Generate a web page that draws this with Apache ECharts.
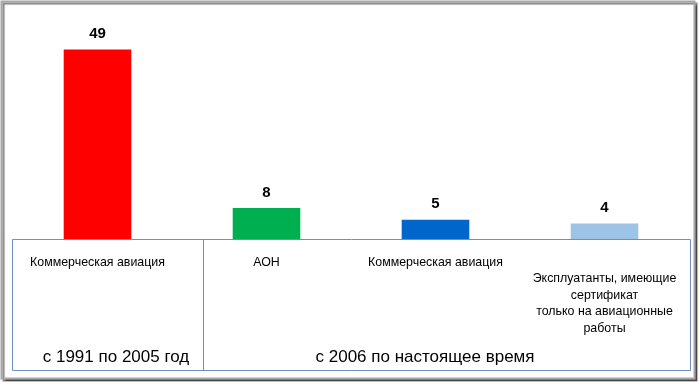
<!DOCTYPE html>
<html>
<head>
<meta charset="utf-8">
<script src="https://cdn.jsdelivr.net/npm/echarts@6/dist/echarts.min.js"></script>
<style>html,body{margin:0;padding:0;background:#fff}#c{width:700px;height:382px}</style>
</head>
<body>
<div id="c"></div>
<script>
const categories = ["Коммерческая авиация", "АОН", "Коммерческая авиация", "Эксплуатанты, имеющие\nсертификат\nтолько на авиационные\nработы"];
const values = [49, 8, 5, 4];
const barColors = ["#ff0000", "#00b050", "#0066cc", "#9dc3e6"];
const periods = ["с 1991 по 2005 год", "с 2006 по настоящее время"];

const FONT = "'Liberation Sans', Arial, sans-serif";
const chart = echarts.init(document.getElementById('c'), null, {renderer: 'canvas'});
chart.setOption({
  animation: false,
  backgroundColor: '#fff',
  grid: {left: 13, right: 11, top: 7, bottom: 143},
  xAxis: {
    type: 'category',
    data: categories,
    axisLine: {show: false},
    axisTick: {show: false},
    axisLabel: {
      interval: 0,
      margin: 15,
      color: '#000',
      fontFamily: FONT,
      fontSize: 12.4,
      lineHeight: 16.5,
      align: 'center',
      formatter: (v, i) => i === 3 ? '\n' + v : v
    }
  },
  yAxis: {type: 'value', min: 0, max: 60, show: false, splitLine: {show: false}},
  series: [{
    type: 'bar',
    barWidth: '40%',
    data: values.map((v, i) => ({value: v, itemStyle: {color: barColors[i]}})),
    label: {show: true, position: 'top', distance: 8, color: '#000', fontFamily: FONT, fontWeight: 'bold', fontSize: 15}
  }],
  graphic: [
    {type: 'rect', z: -1, shape: {x: 1.5, y: 1.5, width: 693, height: 377},
     style: {fill: '#fff', stroke: '#a6a6a6', lineWidth: 2, shadowColor: 'rgba(0,0,0,0.5)', shadowOffsetX: 2, shadowOffsetY: 2, shadowBlur: 1}},
    {type: 'rect', z: 10, shape: {x: 12.5, y: 239.5, width: 678, height: 131}, style: {fill: null, stroke: '#6f8fbf', lineWidth: 1}},
    {type: 'line', z: 10, shape: {x1: 203.5, y1: 239.5, x2: 203.5, y2: 370.5}, style: {stroke: '#6f8fbf', lineWidth: 1}},
    {type: 'text', z: 10, x: 116, y: 357, style: {text: periods[0], fill: '#000', font: '17px ' + FONT, textAlign: 'center', textVerticalAlign: 'middle'}},
    {type: 'text', z: 10, x: 425, y: 357, style: {text: periods[1], fill: '#000', font: '17px ' + FONT, textAlign: 'center', textVerticalAlign: 'middle'}}
  ]
});
</script>
</body>
</html>
